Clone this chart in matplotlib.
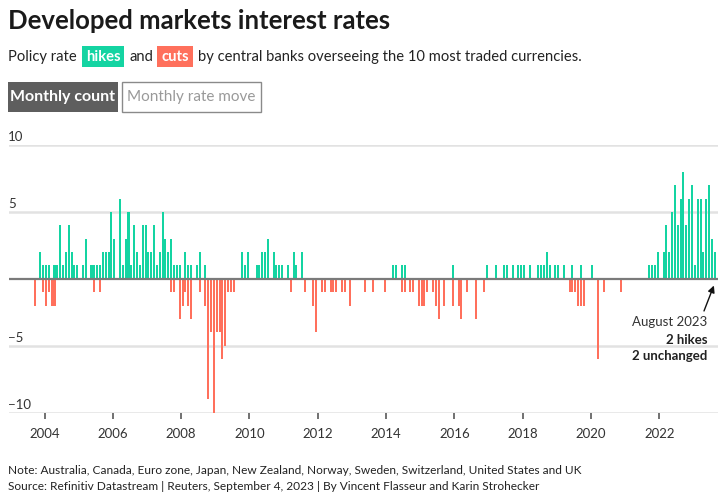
import matplotlib
matplotlib.use('Agg')
import matplotlib.pyplot as plt
import matplotlib.transforms as mtransforms
from matplotlib.patches import Rectangle
import numpy as np

'''
data: monthly count of policy rate hikes and cuts, Sep 2003 - Aug 2023
'''
hikes = [0, 0, 2, 1,                                # 2003 Sep-Dec
         1, 1, 0, 1, 1, 4, 1, 2, 4, 2, 1, 1,        # 2004
         0, 1, 3, 0, 1, 1, 1, 1, 2, 2, 2, 5,        # 2005
         3, 0, 6, 1, 3, 5, 1, 4, 2, 1, 4, 4,        # 2006
         2, 2, 4, 1, 2, 5, 3, 2, 3, 1, 1, 1,        # 2007
         0, 2, 1, 1, 0, 1, 2, 0, 1, 0, 0, 0,        # 2008
         0, 0, 0, 0, 0, 0, 0, 0, 0, 2, 1, 2,        # 2009
         0, 0, 1, 1, 2, 2, 3, 0, 2, 1, 1, 1,        # 2010
         0, 1, 0, 2, 1, 0, 2, 0, 0, 0, 0, 0,        # 2011
         0, 0, 0, 0, 0, 0, 0, 0, 0, 0, 0, 0,        # 2012
         0, 0, 0, 0, 0, 0, 0, 0, 0, 0, 0, 0,        # 2013
         0, 0, 1, 1, 0, 1, 1, 0, 0, 0, 0, 0,        # 2014
         0, 0, 0, 0, 0, 0, 0, 0, 0, 0, 0, 1,        # 2015
         0, 0, 0, 0, 0, 0, 0, 0, 0, 0, 0, 1,        # 2016
         0, 0, 1, 0, 0, 1, 1, 0, 1, 0, 1, 1,        # 2017
         1, 0, 1, 0, 0, 1, 1, 1, 2, 1, 0, 1,        # 2018
         1, 0, 1, 0, 0, 1, 0, 0, 1, 0, 0, 0,        # 2019
         1, 0, 0, 0, 0, 0, 0, 0, 0, 0, 0, 0,        # 2020
         0, 0, 0, 0, 0, 0, 0, 0, 1, 1, 1, 2,        # 2021
         0, 2, 4, 2, 5, 7, 4, 6, 8, 4, 6, 7,        # 2022
         1, 6, 6, 2, 6, 7, 3, 2]                    # 2023 Jan-Aug
cuts = [-2, 0, 0, -1,                               # 2003 Sep-Dec
        -2, -1, -2, -2, 0, 0, 0, 0, 0, 0, 0, 0,     # 2004
        0, 0, 0, 0, 0, -1, 0, -1, 0, 0, 0, 0,       # 2005
        0, 0, 0, 0, 0, 0, 0, 0, 0, 0, 0, 0,         # 2006
        0, 0, 0, 0, 0, 0, 0, 0, -1, -1, 0, -3,      # 2007
        -2, -1, -2, -3, 0, 0, -1, 0, -2, -9, -4, -10,  # 2008
        -4, -4, -6, -5, -1, -1, -1, 0, 0, 0, 0, 0,  # 2009
        0, 0, 0, 0, 0, 0, 0, 0, 0, 0, 0, 0,         # 2010
        0, 0, -1, 0, 0, 0, 0, -1, 0, 0, -2, -4,     # 2011
        0, -1, -1, 0, -1, -1, -1, 0, -1, -1, 0, -2, # 2012
        0, 0, 0, 0, -1, 0, 0, -1, 0, 0, 0, -1,      # 2013
        0, 0, 0, 0, 0, -1, -1, 0, -1, -1, 0, -2,    # 2014
        -2, -2, -1, 0, -1, -2, -3, 0, -2, 0, 0, -2, # 2015
        0, -2, -3, 0, -1, 0, 0, -3, 0, 0, -1, 0,    # 2016
        0, 0, 0, 0, 0, 0, 0, 0, 0, 0, 0, 0,         # 2017
        0, 0, 0, 0, 0, 0, 0, 0, 0, 0, 0, 0,         # 2018
        0, 0, 0, 0, -1, -1, -1, -2, -2, -2, 0, 0,   # 2019
        0, 0, -6, 0, -1, 0, 0, 0, 0, 0, -1, 0,      # 2020
        0, 0, 0, 0, 0, 0, 0, 0, 0, 0, 0, 0,         # 2021
        0, 0, 0, 0, 0, 0, 0, 0, 0, 0, 0, 0,         # 2022
        0, 0, 0, 0, 0, 0, 0, 0]                     # 2023 Jan-Aug
first_year, first_month = 2003, 9
year_ticks = [2004, 2006, 2008, 2010, 2012, 2014, 2016, 2018, 2020, 2022]
y_grid = [-10, -5, 5, 10]
y_labels = ['\u221210', '\u22125', '5', '10']

TEAL = '#14d4a2'
CORAL = '#ff705c'
DARK = '#222222'

plt.rcParams['font.family'] = ['Lato', 'DejaVu Sans']

W, H = 720, 500
fig = plt.figure(figsize=(W / 100, H / 100), dpi=100)
fig.patch.set_facecolor('white')

def fx(x):
    return x / W

def fy(y):
    return 1 - y / H

'''
chart area
'''
ax = fig.add_axes([fx(9), fy(412.7), fx(718) - fx(9), fy(145) - fy(412.7)])
n = len(hikes)
x = first_year + (first_month - 1 + np.arange(n) + 0.5) / 12
ax.bar(x, hikes, width=0.72 / 12, color=TEAL, linewidth=0, zorder=2)
ax.bar(x, cuts, width=0.72 / 12, color=CORAL, linewidth=0, zorder=2)
ax.axhline(0, color='#7a7a7a', lw=1.6, zorder=3)
for v in y_grid:
    ax.axhline(v, color='#e2e2e2', lw=1.8, zorder=0)

ax.set_xlim(2002.96, 2023.72)
ax.set_ylim(-10, 10)
for s in ax.spines.values():
    s.set_visible(False)
ax.set_yticks([])
ax.set_xticks(year_ticks)
ax.set_xticklabels([str(y) for y in year_ticks])
ax.tick_params(axis='x', length=4, width=1.3, color='#666666', pad=7,
               labelsize=9.5, labelcolor='#333333')

trans = mtransforms.blended_transform_factory(fig.transFigure, ax.transData)
for v, lab in zip(y_grid, y_labels):
    ax.annotate(lab, xy=(fx(8), v), xycoords=trans, xytext=(0, 3),
                textcoords='offset points', ha='left', va='baseline',
                fontsize=9.5, color='#333333')

'''
annotation for the last month
'''
ax.annotate('', xy=(2023.6, -0.5), xytext=(2023.31, -2.4),
            arrowprops=dict(arrowstyle='-|>', color='#111111', lw=1,
                            mutation_scale=10, shrinkA=0, shrinkB=0))
fig.text(fx(707), fy(322), 'August 2023', ha='right', va='center',
         fontsize=9.5, color='#333333')
fig.text(fx(707), fy(340), '2 hikes', ha='right', va='center',
         fontsize=9.5, color=DARK, weight='bold')
fig.text(fx(707), fy(356), '2 unchanged', ha='right', va='center',
         fontsize=9.5, color=DARK, weight='bold')

'''
title, subtitle with coloured chips, buttons
'''
fig.text(fx(8), fy(29), 'Developed markets interest rates', ha='left',
         va='baseline', fontsize=18.5, weight='bold', color='#1a1a1a')

r = fig.canvas.get_renderer()

def piece(x0, s, **kw):
    t = fig.text(fx(x0), fy(61), s, ha='left', va='baseline', **kw)
    return t.get_window_extent(r).x1

def chip(x0, s, col):
    t = fig.text(fx(x0 + 4), fy(61), s, ha='left', va='baseline',
                 fontsize=10.6, weight='bold', color='white', zorder=3)
    x1 = t.get_window_extent(r).x1 + 4
    fig.patches.append(Rectangle((fx(x0), fy(67)), fx(x1 - x0), fy(46) - fy(67),
                                 transform=fig.transFigure, fc=col, ec='none',
                                 zorder=2))
    return x1

xx = piece(8, 'Policy rate', fontsize=10.6, color=DARK)
xx = chip(xx + 5, 'hikes', TEAL)
xx = piece(xx + 5, 'and', fontsize=10.6, color=DARK)
xx = chip(xx + 4, 'cuts', CORAL)
piece(xx + 5, 'by central banks overseeing the 10 most traded currencies.',
      fontsize=10.6, color=DARK)

fig.patches.append(Rectangle((fx(8), fy(112)), fx(110), fy(82) - fy(112),
                             transform=fig.transFigure, fc='#5e5e5e', ec='none'))
fig.text(fx(63), fy(97), 'Monthly count', ha='center', va='center',
         fontsize=11.5, weight='bold', color='white')
fig.patches.append(Rectangle((fx(122), fy(112)), fx(139), fy(82) - fy(112),
                             transform=fig.transFigure, fc='white', ec='#8a8a8a',
                             lw=1))
fig.text(fx(191.5), fy(97), 'Monthly rate move', ha='center', va='center',
         fontsize=11, color='#999999')

'''
footer
'''
fig.text(fx(8), fy(470), 'Note: Australia, Canada, Euro zone, Japan, New Zealand, '
         'Norway, Sweden, Switzerland, United States and UK', ha='left',
         va='center', fontsize=8.6, color=DARK)
fig.text(fx(8), fy(487), 'Source: Refinitiv Datastream | Reuters, September 4, 2023 | '
         'By Vincent Flasseur and Karin Strohecker', ha='left', va='center',
         fontsize=8.6, color=DARK)

fig.savefig('out.png', dpi=100)
